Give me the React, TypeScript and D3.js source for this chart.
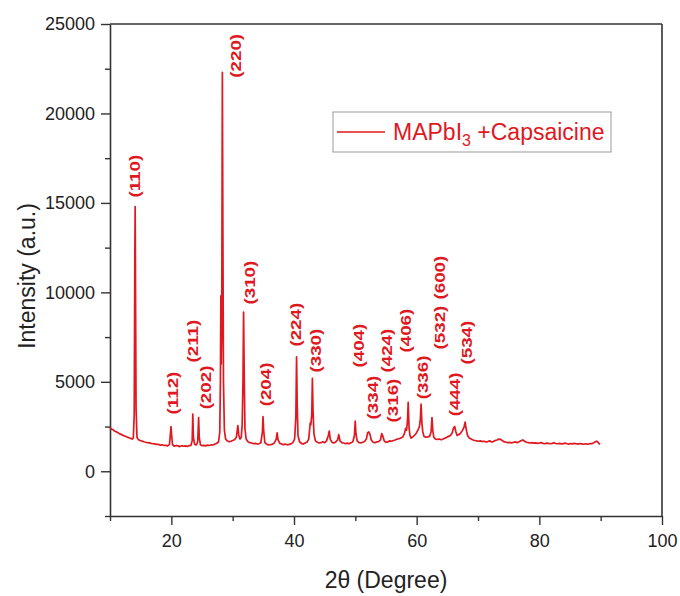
import React, { useEffect, useRef } from "react";
import * as d3 from "d3";

// XRD pattern: [2theta, intensity]
const pattern: [number, number][] = [
  [10.0, 2450], [10.2, 2380], [10.4, 2330], [10.6, 2290], [10.8, 2240], [11.0, 2210], [11.3, 2150],
  [11.6, 2090], [11.9, 2050], [12.2, 1990], [12.5, 1960], [12.8, 1910], [13.1, 1870], [13.4, 1830],
  [13.6, 1800], [13.8, 1860], [13.95, 3200], [14.05, 12000], [14.1, 14800], [14.15, 11000], [14.25, 3500],
  [14.4, 1900], [14.6, 1780], [14.9, 1720], [15.2, 1690], [15.5, 1650], [15.8, 1620], [16.1, 1600],
  [16.4, 1590], [16.7, 1560], [17.0, 1540], [17.3, 1530], [17.6, 1500], [17.9, 1510], [18.2, 1460],
  [18.5, 1480], [18.8, 1440], [19.1, 1450], [19.4, 1420], [19.7, 1500], [19.85, 2100], [19.95, 2500],
  [20.05, 2000], [20.2, 1480], [20.5, 1400], [20.8, 1440], [21.1, 1420], [21.4, 1380], [21.7, 1430],
  [22.0, 1400], [22.3, 1420], [22.6, 1390], [22.9, 1430], [23.2, 1450], [23.4, 1700], [23.5, 3200],
  [23.6, 1900], [23.8, 1500], [24.1, 1480], [24.3, 1650], [24.45, 3000], [24.55, 1900], [24.75, 1480],
  [25.0, 1430], [25.3, 1450], [25.6, 1420], [25.9, 1460], [26.2, 1440], [26.5, 1480], [26.8, 1470],
  [27.1, 1520], [27.4, 1560], [27.7, 1650], [27.9, 2200], [28.0, 5000], [28.08, 9800], [28.14, 6000],
  [28.22, 8000], [28.32, 22300], [28.4, 14000], [28.5, 5000], [28.65, 2300], [28.85, 1800], [29.1, 1700],
  [29.4, 1650], [29.7, 1680], [30.0, 1720], [30.3, 1760], [30.6, 1900], [30.85, 2550], [31.0, 2000],
  [31.2, 1800], [31.4, 1900], [31.55, 2600], [31.68, 5000], [31.78, 8900], [31.88, 5500], [32.0, 2400],
  [32.2, 1800], [32.5, 1650], [32.8, 1600], [33.1, 1580], [33.4, 1540], [33.7, 1560], [34.0, 1520],
  [34.3, 1540], [34.6, 1600], [34.85, 2200], [34.95, 3050], [35.05, 2300], [35.25, 1600], [35.6, 1500],
  [35.9, 1470], [36.2, 1490], [36.5, 1520], [36.8, 1580], [37.1, 1800], [37.25, 2150], [37.4, 1750],
  [37.7, 1560], [38.0, 1520], [38.3, 1490], [38.6, 1520], [38.9, 1480], [39.2, 1500], [39.5, 1530],
  [39.8, 1600], [40.1, 1800], [40.3, 3000], [40.42, 6400], [40.52, 3800], [40.65, 2000], [40.9, 1650],
  [41.2, 1560], [41.5, 1520], [41.8, 1580], [42.1, 1620], [42.4, 1800], [42.65, 2700], [42.75, 2600],
  [42.9, 3200], [43.0, 5200], [43.1, 3400], [43.25, 2100], [43.5, 1700], [43.8, 1620], [44.1, 1580],
  [44.4, 1600], [44.7, 1650], [45.0, 1600], [45.3, 1700], [45.6, 2000], [45.75, 2250], [45.9, 1800],
  [46.2, 1620], [46.5, 1580], [46.8, 1640], [47.1, 1750], [47.3, 2050], [47.5, 1700], [47.8, 1600],
  [48.1, 1580], [48.4, 1540], [48.7, 1570], [49.0, 1540], [49.3, 1600], [49.6, 1650], [49.85, 2000],
  [49.98, 2800], [50.1, 2100], [50.3, 1700], [50.6, 1600], [50.9, 1580], [51.2, 1620], [51.5, 1660],
  [51.8, 1800], [52.0, 2150], [52.2, 2200], [52.4, 2050], [52.6, 1750], [52.9, 1620], [53.2, 1600],
  [53.5, 1640], [53.8, 1660], [54.1, 1750], [54.3, 2100], [54.45, 2000], [54.7, 1700], [55.0, 1620],
  [55.3, 1640], [55.6, 1700], [55.9, 1680], [56.2, 1720], [56.5, 1750], [56.8, 1800], [57.1, 1820],
  [57.4, 1860], [57.7, 1900], [58.0, 2100], [58.2, 2400], [58.35, 2300], [58.5, 2800], [58.62, 3850],
  [58.75, 2500], [58.9, 2000], [59.1, 1850], [59.3, 1900], [59.6, 2000], [59.9, 2100], [60.2, 2300],
  [60.45, 2500], [60.6, 2900], [60.72, 3750], [60.85, 2700], [61.0, 2200], [61.2, 1950], [61.5, 1900],
  [61.8, 1920], [62.1, 1950], [62.35, 2200], [62.5, 3000], [62.62, 2300], [62.8, 1900], [63.1, 1800],
  [63.4, 1780], [63.7, 1800], [64.0, 1760], [64.3, 1800], [64.6, 1850], [64.9, 1900], [65.2, 1950],
  [65.5, 2000], [65.8, 2150], [66.0, 2400], [66.2, 2500], [66.4, 2200], [66.6, 2000], [66.9, 2050],
  [67.2, 2150], [67.5, 2300], [67.75, 2500], [67.9, 2750], [68.05, 2400], [68.3, 2000], [68.6, 1850],
  [68.9, 1800], [69.2, 1750], [69.5, 1720], [69.8, 1700], [70.1, 1680], [70.4, 1700], [70.7, 1660],
  [71.0, 1680], [71.3, 1640], [71.6, 1660], [71.9, 1700], [72.2, 1640], [72.5, 1660], [72.8, 1720],
  [73.1, 1750], [73.4, 1800], [73.7, 1780], [74.0, 1700], [74.3, 1640], [74.6, 1620], [74.9, 1600],
  [75.2, 1610], [75.5, 1590], [75.8, 1620], [76.1, 1640], [76.4, 1600], [76.7, 1650], [77.0, 1700],
  [77.3, 1750], [77.6, 1680], [77.9, 1620], [78.2, 1600], [78.5, 1580], [78.8, 1600], [79.1, 1570],
  [79.4, 1590], [79.7, 1560], [80.0, 1580], [80.3, 1600], [80.6, 1560], [80.9, 1540], [81.2, 1570],
  [81.5, 1560], [81.8, 1540], [82.1, 1560], [82.4, 1590], [82.7, 1550], [83.0, 1540], [83.3, 1560],
  [83.6, 1530], [83.9, 1550], [84.2, 1570], [84.5, 1540], [84.8, 1520], [85.1, 1550], [85.4, 1530],
  [85.7, 1560], [86.0, 1540], [86.3, 1520], [86.6, 1550], [86.9, 1530], [87.2, 1510], [87.5, 1540],
  [87.8, 1520], [88.1, 1530], [88.4, 1550], [88.7, 1560], [89.0, 1620], [89.3, 1680], [89.5, 1650],
  [89.7, 1560], [89.9, 1500],
];

// Miller index labels and where their baseline starts (2theta, intensity)
const peakHkl = ["(110)", "(220)", "(112)", "(211)", "(202)", "(310)", "(204)", "(224)", "(330)", "(404)",
  "(334)", "(424)", "(316)", "(406)", "(336)", "(532)", "(600)", "(444)", "(534)"];
const peakTheta = [14.1, 30.5, 20.3, 23.5, 25.7, 32.8, 35.4, 40.3, 43.6, 50.6,
  52.9, 55.2, 56.1, 58.3, 61.0, 63.8, 63.8, 66.3, 68.2];
const peakLabelY = [15300, 22000, 3180, 6080, 3460, 9320, 3630, 6970, 5520, 5800,
  2900, 5520, 2730, 6640, 4020, 6810, 9600, 3070, 5970];

const xMajor = [20, 40, 60, 80, 100];
const xMinor = [10, 30, 50, 70, 90];
const yMajor = [0, 5000, 10000, 15000, 20000, 25000];
const yMinor = [-2500, 2500, 7500, 12500, 17500, 22500];

const RED = "#e0181f";
const AXIS = "#333";
const FONT = "'Liberation Sans', Arial, sans-serif";

export default function App() {
  const svgRef = useRef<SVGSVGElement>(null);

  useEffect(() => {
    const width = 680;
    const height = 596;
    const margin = { top: 24, right: 18, bottom: 80, left: 110 };
    const innerW = width - margin.left - margin.right;
    const innerH = height - margin.top - margin.bottom;

    const root = d3.select(svgRef.current);
    root.selectAll("*").remove();
    root.attr("width", width).attr("height", height);

    const svg = root.append("g").attr("transform", `translate(${margin.left},${margin.top})`);

    const x = d3.scaleLinear().domain([10, 100]).range([0, innerW]);
    const y = d3.scaleLinear().domain([-2500, 25000]).range([innerH, 0]);

    // frame (top, right)
    svg.append("line").attr("x1", 0).attr("x2", innerW).attr("y1", 0).attr("y2", 0)
      .attr("stroke", AXIS).attr("stroke-width", 1.6);
    svg.append("line").attr("x1", innerW).attr("x2", innerW).attr("y1", 0).attr("y2", innerH)
      .attr("stroke", AXIS).attr("stroke-width", 1.6);

    // minor ticks
    svg.append("g")
      .call(d3.axisLeft(y).tickValues(yMinor).tickSize(5).tickFormat(() => ""))
      .call(g => g.select(".domain").remove())
      .call(g => g.selectAll("line").attr("stroke", AXIS).attr("stroke-width", 1.4));
    svg.append("g")
      .attr("transform", `translate(0,${innerH})`)
      .call(d3.axisBottom(x).tickValues(xMinor).tickSize(5).tickFormat(() => ""))
      .call(g => g.select(".domain").remove())
      .call(g => g.selectAll("line").attr("stroke", AXIS).attr("stroke-width", 1.4));

    // major axes
    const yAxis = svg.append("g")
      .call(d3.axisLeft(y).tickValues(yMajor).tickSize(9).tickPadding(6).tickSizeOuter(0).tickFormat(d3.format("d")));
    const xAxis = svg.append("g")
      .attr("transform", `translate(0,${innerH})`)
      .call(d3.axisBottom(x).tickValues(xMajor).tickSize(9).tickPadding(9).tickSizeOuter(0).tickFormat(d3.format("d")));
    [yAxis, xAxis].forEach(ax => {
      ax.select(".domain").attr("stroke", AXIS).attr("stroke-width", 1.6);
      ax.selectAll("line").attr("stroke", AXIS).attr("stroke-width", 1.4);
      ax.selectAll("text").attr("fill", "#222").style("font-family", FONT).style("font-size", "18px");
    });

    // XRD curve
    const line = d3.line<[number, number]>().x(d => x(d[0])).y(d => y(d[1]));
    svg.append("path")
      .datum(pattern)
      .attr("fill", "none")
      .attr("stroke", RED)
      .attr("stroke-width", 1.7)
      .attr("stroke-linejoin", "round")
      .attr("d", line);

    // peak labels (glyphs look stretched along the text in the original)
    svg.append("g")
      .selectAll("text")
      .data(peakHkl)
      .join("text")
      .attr("transform", (_, i) => `translate(${x(peakTheta[i]) + 5},${y(peakLabelY[i])}) rotate(-90) scale(1.25,1)`)
      .attr("fill", RED)
      .attr("font-weight", "bold")
      .style("font-family", FONT)
      .style("font-size", "15px")
      .text(d => d);

    // legend
    const lg = root.append("g").attr("transform", "translate(333,112)");
    lg.append("rect").attr("width", 278).attr("height", 40)
      .attr("fill", "white").attr("stroke", "#999").attr("stroke-width", 1);
    lg.append("line").attr("x1", 4).attr("x2", 52).attr("y1", 20).attr("y2", 20)
      .attr("stroke", RED).attr("stroke-width", 1.6);
    const lt = lg.append("text").attr("x", 60).attr("y", 28)
      .attr("fill", RED).style("font-family", FONT).style("font-size", "23px");
    lt.append("tspan").text("MAPbI");
    lt.append("tspan").attr("dy", 6).style("font-size", "16px").text("3");
    lt.append("tspan").attr("dy", -6).text(" +Capsaicine");

    // axis titles
    root.append("text")
      .attr("transform", `translate(35,${margin.top + innerH / 2 + 6}) rotate(-90)`)
      .attr("text-anchor", "middle")
      .attr("fill", "#222")
      .style("font-family", FONT)
      .style("font-size", "23px")
      .text("Intensity (a.u.)");
    root.append("text")
      .attr("x", margin.left + innerW / 2)
      .attr("y", 588)
      .attr("text-anchor", "middle")
      .attr("fill", "#222")
      .style("font-family", FONT)
      .style("font-size", "23px")
      .text("2θ (Degree)");
  }, []);

  return (
    <div style={{ position: "absolute", left: 0, top: 0, background: "white" }}>
      <svg ref={svgRef} style={{ display: "block" }}></svg>
    </div>
  );
}
